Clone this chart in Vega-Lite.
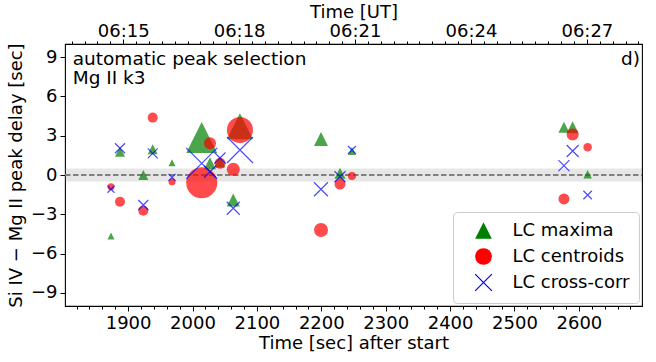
{
  "$schema": "https://vega.github.io/schema/vega-lite/v6.json",
  "width": 577,
  "height": 262,
  "autosize": {"type": "none"},
  "padding": {"left": 65, "top": 44, "right": 14, "bottom": 56},
  "config": {
    "font": "DejaVu Sans",
    "view": {"stroke": "black", "strokeWidth": 1.1},
    "axis": {
      "domain": false, "grid": false, "ticks": true,
      "tickColor": "black", "tickWidth": 1,
      "labelColor": "black", "titleColor": "black",
      "labelFont": "DejaVu Sans", "titleFont": "DejaVu Sans",
      "labelFontSize": 18, "titleFontSize": 18, "titleFontWeight": "normal"
    },
    "legend": {
      "orient": "bottom-right", "offset": 3, "padding": 9.5, "rowPadding": 4,
      "symbolOffset": 12, "labelOffset": 20, "labelFontSize": 18, "labelFont": "DejaVu Sans",
      "labelColor": "black", "symbolSize": 280, "symbolStrokeWidth": 1.2, "symbolOpacity": 1,
      "strokeColor": "#cccccc", "fillColor": "rgba(255,255,255,0.8)", "cornerRadius": 4
    }
  },
  "resolve": {"axis": {"x": "independent", "y": "independent"}},
  "data": {"values": [
    {"t": 1873.4, "delay": -4.66, "series": "LC maxima", "amp": 7},
    {"t": 1887.4, "delay": 1.78, "series": "LC maxima", "amp": 10},
    {"t": 1923.6, "delay": 0.0, "series": "LC maxima", "amp": 10},
    {"t": 1938.2, "delay": 1.96, "series": "LC maxima", "amp": 10},
    {"t": 1968.2, "delay": 0.94, "series": "LC maxima", "amp": 7},
    {"t": 2014.3, "delay": 2.86, "series": "LC maxima", "amp": 31},
    {"t": 2027.2, "delay": 0.89, "series": "LC maxima", "amp": 12},
    {"t": 2042.7, "delay": 1.0, "series": "LC maxima", "amp": 11},
    {"t": 2063.3, "delay": -1.9, "series": "LC maxima", "amp": 13},
    {"t": 2073.7, "delay": 3.72, "series": "LC maxima", "amp": 26},
    {"t": 2199.5, "delay": 2.75, "series": "LC maxima", "amp": 14},
    {"t": 2229.0, "delay": 0.13, "series": "LC maxima", "amp": 11},
    {"t": 2247.6, "delay": 1.83, "series": "LC maxima", "amp": 8},
    {"t": 2576.8, "delay": 3.64, "series": "LC maxima", "amp": 11},
    {"t": 2590.3, "delay": 3.64, "series": "LC maxima", "amp": 12},
    {"t": 2613.6, "delay": 0.05, "series": "LC maxima", "amp": 8.5},
    {"t": 1873.4, "delay": -0.89, "series": "LC centroids", "amp": 7},
    {"t": 1887.4, "delay": -2.04, "series": "LC centroids", "amp": 10},
    {"t": 1923.6, "delay": -2.72, "series": "LC centroids", "amp": 10},
    {"t": 1938.2, "delay": 4.38, "series": "LC centroids", "amp": 10},
    {"t": 1968.2, "delay": -0.51, "series": "LC centroids", "amp": 7},
    {"t": 2014.3, "delay": -0.59, "series": "LC centroids", "amp": 31},
    {"t": 2027.2, "delay": 2.42, "series": "LC centroids", "amp": 12},
    {"t": 2042.7, "delay": 0.89, "series": "LC centroids", "amp": 11},
    {"t": 2063.3, "delay": 0.43, "series": "LC centroids", "amp": 13},
    {"t": 2073.7, "delay": 3.44, "series": "LC centroids", "amp": 26},
    {"t": 2199.5, "delay": -4.2, "series": "LC centroids", "amp": 14},
    {"t": 2229.0, "delay": -0.69, "series": "LC centroids", "amp": 11},
    {"t": 2247.6, "delay": -0.08, "series": "LC centroids", "amp": 8},
    {"t": 2576.8, "delay": -1.83, "series": "LC centroids", "amp": 11},
    {"t": 2590.3, "delay": 3.1, "series": "LC centroids", "amp": 12},
    {"t": 2613.6, "delay": 2.11, "series": "LC centroids", "amp": 8.5},
    {"t": 1873.4, "delay": -1.09, "series": "LC cross-corr", "amp": 7},
    {"t": 1887.4, "delay": 2.04, "series": "LC cross-corr", "amp": 10},
    {"t": 1923.6, "delay": -2.29, "series": "LC cross-corr", "amp": 10},
    {"t": 1938.2, "delay": 1.65, "series": "LC cross-corr", "amp": 10},
    {"t": 1968.2, "delay": -0.18, "series": "LC cross-corr", "amp": 7},
    {"t": 2014.3, "delay": 0.89, "series": "LC cross-corr", "amp": 31},
    {"t": 2027.2, "delay": 0.25, "series": "LC cross-corr", "amp": 12},
    {"t": 2042.7, "delay": 1.3, "series": "LC cross-corr", "amp": 11},
    {"t": 2063.3, "delay": -2.54, "series": "LC cross-corr", "amp": 13},
    {"t": 2073.7, "delay": 1.91, "series": "LC cross-corr", "amp": 26},
    {"t": 2199.5, "delay": -1.09, "series": "LC cross-corr", "amp": 14},
    {"t": 2229.0, "delay": -0.13, "series": "LC cross-corr", "amp": 11},
    {"t": 2247.6, "delay": 1.91, "series": "LC cross-corr", "amp": 8},
    {"t": 2576.8, "delay": 0.71, "series": "LC cross-corr", "amp": 11},
    {"t": 2590.3, "delay": 1.83, "series": "LC cross-corr", "amp": 12},
    {"t": 2613.6, "delay": -1.53, "series": "LC cross-corr", "amp": 8.5}
  ]},
  "layer": [
    {
      "data": {"values": [{}]},
      "mark": {"type": "rect", "color": "#808080", "opacity": 0.2},
      "encoding": {
        "x": {"datum": 1802, "type": "quantitative", "axis": {"orient": "bottom", "title": null, "labels": false, "tickSize": 3,
          "values": [1820,1840,1860,1880,1900,1920,1940,1960,1980,2000,2020,2040,2060,2080,2100,2120,2140,2160,2180,2200,2220,2240,2260,2280,2300,2320,2340,2360,2380,2400,2420,2440,2460,2480,2500,2520,2540,2560,2580,2600,2620,2640,2660,2680]}},
        "x2": {"datum": 2698},
        "y": {"datum": -0.5, "type": "quantitative", "axis": null},
        "y2": {"datum": 0.5}
      }
    },
    {
      "data": {"values": [{}]},
      "mark": {"type": "rule", "color": "#808080", "strokeDash": [5.5, 2.5], "strokeWidth": 1.8},
      "encoding": {
        "x": {"datum": 1802, "type": "quantitative", "axis": {"orient": "top", "title": null, "labels": false, "tickSize": 3,
          "values": [1812.4,1832.4,1852.4,1872.4,1892.4,1912.4,1932.4,1952.4,1972.4,1992.4,2012.4,2032.4,2052.4,2072.4,2092.4,2112.4,2132.4,2152.4,2172.4,2192.4,2212.4,2232.4,2252.4,2272.4,2292.4,2312.4,2332.4,2352.4,2372.4,2392.4,2412.4,2432.4,2452.4,2472.4,2492.4,2512.4,2532.4,2552.4,2572.4,2592.4,2612.4,2632.4,2652.4,2672.4,2692.4]}},
        "x2": {"datum": 2698},
        "y": {"datum": 0, "type": "quantitative", "axis": null}
      }
    },
    {
      "mark": {"type": "point", "filled": false, "opacity": 0.7, "strokeWidth": 1.2},
      "encoding": {
        "x": {"field": "t", "type": "quantitative", "scale": {"domain": [1802, 2698], "nice": false, "zero": false},
          "axis": {"orient": "bottom", "title": "Time [sec] after start", "format": "d", "tickSize": 5, "labelPadding": 3, "titlePadding": 2,
            "values": [1900, 2000, 2100, 2200, 2300, 2400, 2500, 2600]}},
        "y": {"field": "delay", "type": "quantitative", "scale": {"domain": [-10, 10], "nice": false},
          "axis": {"orient": "left", "title": "Si IV − Mg II peak delay [sec]", "tickSize": 5, "labelPadding": 3, "titlePadding": 5,
            "values": [-9, -6, -3, 0, 3, 6, 9]}},
        "shape": {"field": "series", "type": "nominal",
          "scale": {"domain": ["LC maxima", "LC centroids", "LC cross-corr"], "range": ["M0,-1L1,1L-1,1Z", "circle", "M-1,-1L1,1M-1,1L1,-1"]},
          "legend": {"title": null}},
        "fill": {"field": "series", "type": "nominal",
          "scale": {"domain": ["LC maxima", "LC centroids", "LC cross-corr"], "range": ["#008000", "#ff0000", "transparent"]},
          "legend": {"title": null}},
        "stroke": {"field": "series", "type": "nominal",
          "scale": {"domain": ["LC maxima", "LC centroids", "LC cross-corr"], "range": ["transparent", "transparent", "#0000ff"]},
          "legend": {"title": null}},
        "size": {"field": "amp", "type": "quantitative", "scale": {"type": "pow", "exponent": 2, "domain": [0, 31], "range": [0, 961]}, "legend": null}
      }
    },
    {
      "data": {"values": [{}]},
      "mark": {"type": "text", "text": ["automatic peak selection", "Mg II k3"], "align": "left", "baseline": "alphabetic", "fontSize": 18.5, "lineHeight": 19, "font": "DejaVu Sans", "color": "black"},
      "encoding": {
        "x": {"datum": 1814, "type": "quantitative", "axis": {"orient": "top", "title": "Time [UT]", "tickSize": 5, "labelPadding": -1, "titlePadding": 1,
          "values": [1892.4, 2072.4, 2252.4, 2432.4, 2612.4],
          "labelExpr": "'06:' + format(15 + round((datum.value - 1892.4) / 60), '02d')"}},
        "y": {"datum": 8.41, "type": "quantitative", "axis": null}
      }
    },
    {
      "data": {"values": [{}]},
      "mark": {"type": "text", "text": "d)", "align": "right", "baseline": "alphabetic", "fontSize": 18.5, "font": "DejaVu Sans", "color": "black"},
      "encoding": {
        "x": {"datum": 2695, "type": "quantitative", "axis": null},
        "y": {"datum": 8.41, "type": "quantitative", "axis": null}
      }
    }
  ]
}
